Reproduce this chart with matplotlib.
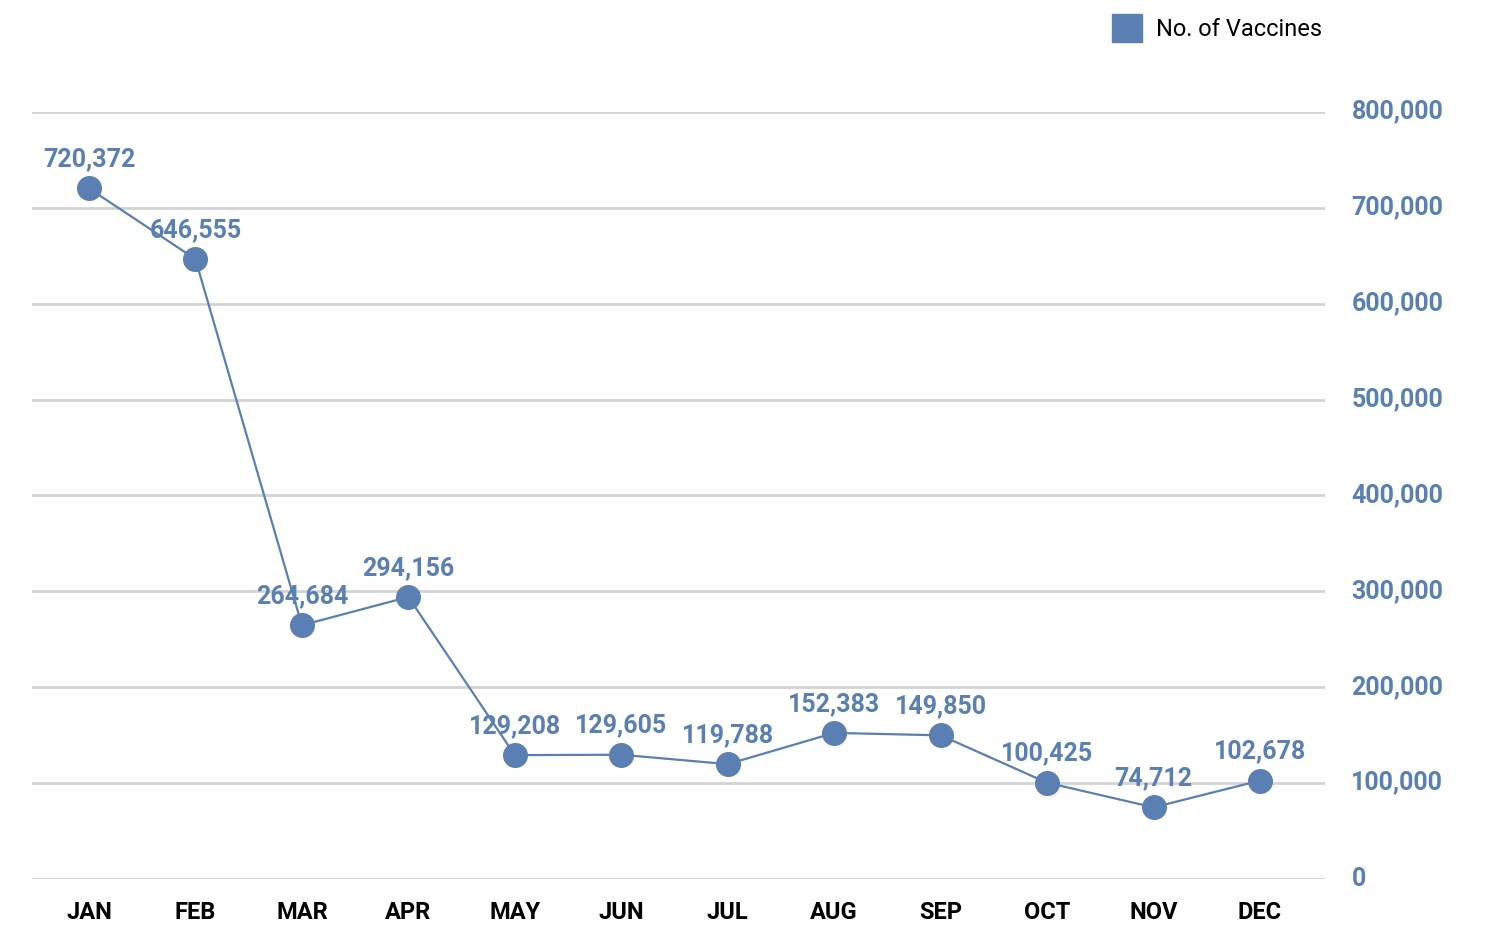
import matplotlib.pyplot as plt
from matplotlib.patches import Patch
from matplotlib.ticker import FuncFormatter
from matplotlib.transforms import ScaledTranslation

months = ["JAN", "FEB", "MAR", "APR", "MAY", "JUN",
          "JUL", "AUG", "SEP", "OCT", "NOV", "DEC"]
vaccines = [720372, 646555, 264684, 294156, 129208, 129605,
            119788, 152383, 149850, 100425, 74712, 102678]
y_ticks = [0, 100000, 200000, 300000, 400000, 500000, 600000, 700000, 800000]

blue = "#5a7fb2"
grid_grey = "#d3d3d3"
plt.rcParams["font.family"] = ["Roboto", "DejaVu Sans"]

fig = plt.figure(figsize=(14.87, 9.26), dpi=100)
ax = fig.add_axes([32 / 1487, 47 / 926, 1293 / 1487, 767 / 926])

x = range(len(months))
ax.plot(x, vaccines, color=blue, lw=1.6, marker="o", ms=17,
        markerfacecolor=blue, markeredgecolor=blue, zorder=3)

# value labels above each point
for i, v in enumerate(vaccines):
    ax.annotate(f"{v:,}", (i, v), xytext=(0, 21), textcoords="offset points",
                ha="center", va="center", fontsize=18, fontweight="bold",
                color=blue, zorder=4)

ax.set_ylim(0, 800000)
ax.set_xlim(-0.535, 11.61)
ax.set_yticks(y_ticks)
ax.yaxis.set_major_formatter(FuncFormatter(lambda v, p: f"{int(v):,}"))
ax.yaxis.tick_right()
ax.set_xticks(list(x))
ax.set_xticklabels(months)

ax.grid(axis="y", color=grid_grey, lw=2)
ax.set_axisbelow(True)
for s in ax.spines.values():
    s.set_visible(False)
ax.tick_params(axis="both", length=0)
ax.tick_params(axis="y", labelsize=18, labelcolor=blue, pad=19)
ax.tick_params(axis="x", labelsize=17, labelcolor="black", pad=16)
nudge = ScaledTranslation(0, 3 / 100, fig.dpi_scale_trans)
for t in ax.get_yticklabels():
    t.set_fontweight("bold")
    t.set_transform(t.get_transform() + nudge)
for t in ax.get_xticklabels():
    t.set_fontweight("bold")

handle = Patch(facecolor=blue, edgecolor=blue, label="No. of Vaccines")
fig.legend(handles=[handle], loc="upper right", bbox_to_anchor=(1343 / 1487, 1.008),
           frameon=False, fontsize=17, handlelength=1.25, handleheight=1.45,
           handletextpad=0.6)

fig.savefig("out.png", dpi=100)
